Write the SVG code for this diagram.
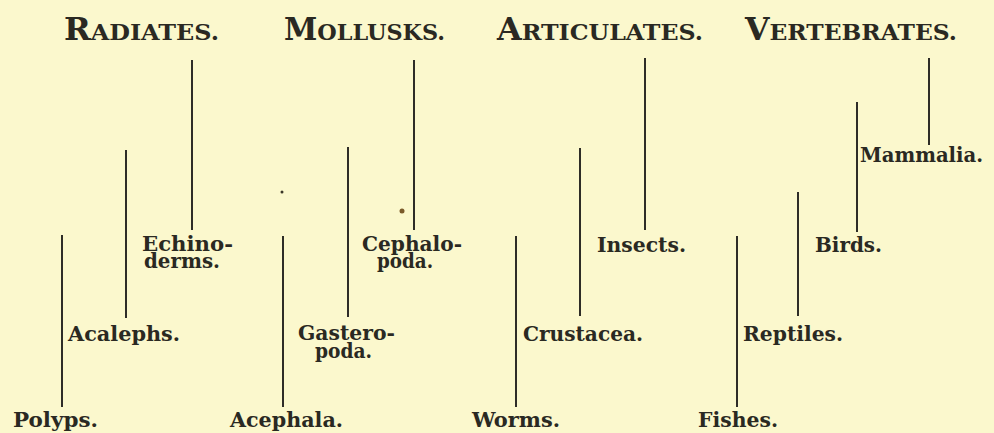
<svg xmlns="http://www.w3.org/2000/svg" width="994" height="433" viewBox="0 0 994 433">
<style>
.bg{fill:#fbf8cd}
.hd{font-family:"DejaVu Serif","Liberation Serif",serif;font-size:23px;fill:#2a2922;font-weight:bold}
.cap{font-size:31px}
.lb{font-family:"DejaVu Serif","Liberation Serif",serif;font-size:20px;font-weight:bold;fill:#2a2922}
.ln{stroke:#2e2d27;stroke-width:2;fill:none}
</style>
<rect class="bg" x="0" y="0" width="994" height="433"/>
<g id="headers">
<g id="radiates"><text class="hd" x="64" y="40" textLength="155" lengthAdjust="spacingAndGlyphs"><tspan class="cap">R</tspan>ADIATES.</text></g>
<g id="mollusks"><text class="hd" x="284" y="40" textLength="161" lengthAdjust="spacingAndGlyphs"><tspan class="cap">M</tspan>OLLUSKS.</text></g>
<g id="articulates"><text class="hd" x="497" y="40" textLength="206" lengthAdjust="spacingAndGlyphs"><tspan class="cap">A</tspan>RTICULATES.</text></g>
<g id="vertebrates"><text class="hd" x="745" y="40" textLength="212" lengthAdjust="spacingAndGlyphs"><tspan class="cap">V</tspan>ERTEBRATES.</text></g>
</g>
<g id="connectors">
<line class="ln" x1="62" y1="235" x2="62" y2="407"/>
<line class="ln" x1="126" y1="150" x2="126" y2="318"/>
<line class="ln" x1="192" y1="60" x2="192" y2="230"/>
<line class="ln" x1="283" y1="236" x2="283" y2="407"/>
<line class="ln" x1="348" y1="147" x2="348" y2="317"/>
<line class="ln" x1="414" y1="60" x2="414" y2="230"/>
<line class="ln" x1="516" y1="236" x2="516" y2="407"/>
<line class="ln" x1="580" y1="148" x2="580" y2="316"/>
<line class="ln" x1="645" y1="58" x2="645" y2="230"/>
<line class="ln" x1="737" y1="236" x2="737" y2="407"/>
<line class="ln" x1="798" y1="192" x2="798" y2="316"/>
<line class="ln" x1="857" y1="102" x2="857" y2="232"/>
<line class="ln" x1="929" y1="58" x2="929" y2="145"/>
</g>
<g id="polyps"><text class="lb" x="13" y="427" textLength="85" lengthAdjust="spacingAndGlyphs">Polyps.</text></g>
<g id="acalephs"><text class="lb" x="68" y="341" textLength="112" lengthAdjust="spacingAndGlyphs">Acalephs.</text></g>
<g id="echinoderms"><text class="lb" x="142" y="251" textLength="91" lengthAdjust="spacingAndGlyphs">Echino-</text><text class="lb" x="144" y="268" textLength="76" lengthAdjust="spacingAndGlyphs">derms.</text></g>
<g id="acephala"><text class="lb" x="230" y="427" textLength="113" lengthAdjust="spacingAndGlyphs">Acephala.</text></g>
<g id="gasteropoda"><text class="lb" x="298" y="340" textLength="97" lengthAdjust="spacingAndGlyphs">Gastero-</text><text class="lb" x="315" y="358" textLength="57" lengthAdjust="spacingAndGlyphs">poda.</text></g>
<g id="cephalopoda"><text class="lb" x="362" y="251" textLength="100" lengthAdjust="spacingAndGlyphs">Cephalo-</text><text class="lb" x="377" y="268" textLength="56" lengthAdjust="spacingAndGlyphs">poda.</text></g>
<g id="worms"><text class="lb" x="472" y="427" textLength="88" lengthAdjust="spacingAndGlyphs">Worms.</text></g>
<g id="crustacea"><text class="lb" x="523" y="341" textLength="120" lengthAdjust="spacingAndGlyphs">Crustacea.</text></g>
<g id="insects"><text class="lb" x="597" y="252" textLength="89" lengthAdjust="spacingAndGlyphs">Insects.</text></g>
<g id="fishes"><text class="lb" x="698" y="427" textLength="80" lengthAdjust="spacingAndGlyphs">Fishes.</text></g>
<g id="reptiles"><text class="lb" x="743" y="341" textLength="100" lengthAdjust="spacingAndGlyphs">Reptiles.</text></g>
<g id="birds"><text class="lb" x="815" y="252" textLength="67" lengthAdjust="spacingAndGlyphs">Birds.</text></g>
<g id="mammalia"><text class="lb" x="860" y="162" textLength="123" lengthAdjust="spacingAndGlyphs">Mammalia.</text></g>
<g id="specks">
<circle cx="282" cy="192" r="1.5" fill="#3a3628"/>
<circle cx="402" cy="211" r="2.5" fill="#7a5a2a"/>
</g>
</svg>
